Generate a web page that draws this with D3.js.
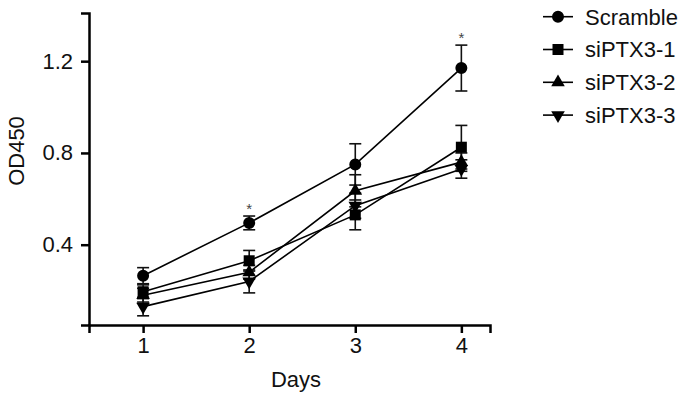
<!DOCTYPE html>
<html><head><meta charset="utf-8">
<script src="https://cdn.jsdelivr.net/npm/d3@7"></script>
<style>body{margin:0;background:#fff}svg{display:block}text{font-family:"Liberation Sans",Arial,sans-serif}</style>
</head><body><svg id="c" width="686" height="400"></svg>
<script>
const days = [1, 2, 3, 4];
const seriesNames = ["Scramble", "siPTX3-1", "siPTX3-2", "siPTX3-3"];
const scramble = [0.265, 0.495, 0.75, 1.17];
const scrambleErr = [0.035, 0.03, 0.09, 0.1];
const si1 = [0.195, 0.33, 0.53, 0.825];
const si1Err = [0.03, 0.045, 0.065, 0.095];
const si2 = [0.18, 0.28, 0.635, 0.76];
const si2Err = [0.03, 0.03, 0.07, 0.04];
const si3 = [0.13, 0.24, 0.57, 0.73];
const si3Err = [0.04, 0.05, 0.055, 0.04];
const yTicks = [0.4, 0.8, 1.2];
const starDays = [2, 4];

const series = [
  {name: seriesNames[0], v: scramble, e: scrambleErr, sym: "circle"},
  {name: seriesNames[1], v: si1, e: si1Err, sym: "square"},
  {name: seriesNames[2], v: si2, e: si2Err, sym: "tri"},
  {name: seriesNames[3], v: si3, e: si3Err, sym: "itri"}
];

const svg = d3.select("#c");
const x = d3.scaleLinear().domain([0.49, 4.27]).range([89, 490]);
const y = d3.scaleLinear().domain([0.05, 1.41]).range([325, 13]);
const FS = 22;

function symPath(s) {
  if (s === "circle") return d3.symbol(d3.symbolCircle, 113)();
  if (s === "square") return d3.symbol(d3.symbolSquare, 121)();
  return d3.symbol(d3.symbolTriangle, 80)();
}
function symTransform(s, px, py) {
  return `translate(${px},${py})` + (s === "itri" ? " rotate(180)" : "");
}

// axes
const xAxis = svg.append("g").attr("transform", "translate(0,325)")
  .call(d3.axisBottom(x).tickValues(days).tickFormat(d3.format("d")).tickSize(8).tickPadding(4));
const yAxis = svg.append("g").attr("transform", "translate(89,0)")
  .call(d3.axisLeft(y).tickValues(yTicks).tickFormat(d3.format(".1f")).tickSize(8).tickPadding(8));
[xAxis, yAxis].forEach(a => {
  a.select(".domain").attr("stroke", "#000").attr("stroke-width", 2.5);
  a.selectAll(".tick line").attr("stroke", "#000").attr("stroke-width", 2.5);
  a.selectAll(".tick text").attr("font-size", FS).attr("fill", "#111")
    .attr("font-family", "'Liberation Sans', Arial, sans-serif");
});

// labels
svg.append("text").attr("x", 296).attr("y", 387).attr("text-anchor", "middle")
  .attr("font-size", FS).attr("fill", "#111").text("Days");
svg.append("text").attr("transform", "translate(24,151) rotate(-90)").attr("text-anchor", "middle")
  .attr("font-size", FS).attr("fill", "#111").text("OD450");

const line = d3.line().x((d, i) => x(days[i])).y(d => y(d));

// lines
series.forEach(s => {
  svg.append("path").attr("d", line(s.v)).attr("fill", "none")
    .attr("stroke", "#000").attr("stroke-width", 1.6);
});
// error bars
series.forEach(s => {
  s.v.forEach((v, i) => {
    const px = x(days[i]), t = y(v + s.e[i]), b = y(v - s.e[i]);
    const g = svg.append("g").attr("stroke", "#111").attr("stroke-width", 1.6);
    g.append("line").attr("x1", px).attr("x2", px).attr("y1", t).attr("y2", b);
    g.append("line").attr("x1", px - 6).attr("x2", px + 6).attr("y1", t).attr("y2", t);
    g.append("line").attr("x1", px - 6).attr("x2", px + 6).attr("y1", b).attr("y2", b);
  });
});
// markers
series.forEach(s => {
  s.v.forEach((v, i) => {
    svg.append("path").attr("d", symPath(s.sym))
      .attr("transform", symTransform(s.sym, x(days[i]), y(v))).attr("fill", "#000");
  });
});
// asterisks
starDays.forEach(d => {
  const i = days.indexOf(d);
  svg.append("text").attr("x", x(d)).attr("y", y(scramble[i] + scrambleErr[i]) - 2)
    .attr("text-anchor", "middle").attr("font-size", 15).attr("fill", "#444").text("*");
});

// legend
series.forEach((s, k) => {
  const cy = 16.7 + k * 32.8;
  svg.append("line").attr("x1", 543).attr("x2", 573).attr("y1", cy).attr("y2", cy)
    .attr("stroke", "#000").attr("stroke-width", 1.6);
  svg.append("path").attr("d", symPath(s.sym)).attr("transform", symTransform(s.sym, 558, cy)).attr("fill", "#000");
  svg.append("text").attr("x", 585).attr("y", cy).attr("dy", "0.36em")
    .attr("font-size", FS).attr("fill", "#111").text(s.name);
});
</script></body></html>
